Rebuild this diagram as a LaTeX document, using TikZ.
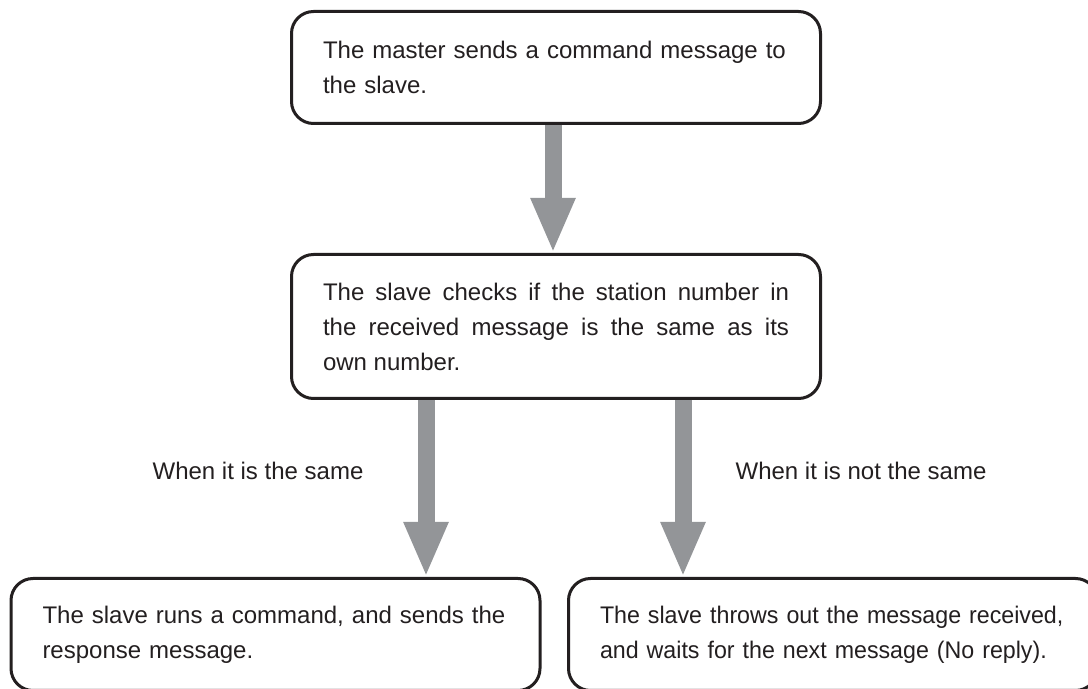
\documentclass[tikz,border=0pt]{standalone}
\usepackage{fontspec}
\setmainfont{Liberation Sans}
\newfontfamily\narrowsans[FakeStretch=0.967]{Liberation Sans}
\usetikzlibrary{arrows.meta, positioning, calc}
\definecolor{inkgray}{RGB}{35,31,32}
\definecolor{arrowgray}{RGB}{147,149,152}
\tikzset{
  box/.style={
    draw=inkgray,
    line width=1.5pt,
    rounded corners=11pt,
    fill=white,
    text=inkgray,
    align=left,
    text width=233pt,
    inner xsep=15.75pt,
    inner ysep=4pt,
    minimum height=56pt
  },
  checkbox/.style={box, align=justify, minimum height=72pt},
  flowarrow/.style={-{Triangle[width=20.5pt,length=27.5pt]}, line width=8.5pt, draw=arrowgray},
  branchlabel/.style={text=inkgray, inner sep=0pt, anchor=base}
}

\begin{document}
\begin{tikzpicture}[
    x=0.5pt, y=0.5pt,
    font=\fontsize{12}{17.5}\selectfont
]
\useasboundingbox (0,0) rectangle (1088,-689);
\clip (0,0) rectangle (1088,-689);

\node[box] (master) at (556,-67.5)
{The master sends a command message to\\the slave.};

\node[checkbox, below=64pt of master] (check)
{The slave checks if the station number in\linebreak the received message is the same as its\linebreak own number.};

\node[box, anchor=north] (same) at (275.5,-577)
{The slave runs a command, and sends the\\response message.};

\node[box, anchor=north, font=\fontsize{12}{17.5}\selectfont\narrowsans] (notsame) at (833,-577)
{The slave throws out the message received,\\and waits for the next message (No reply).};

\node[branchlabel] (samelbl) at (258,-480) {When it is the same};
\node[branchlabel] (notsamelbl) at (861,-480) {When it is not the same};

\draw[flowarrow] ([xshift=-1.5pt]master.south) -- ([xshift=-1.5pt]master.south |- check.north);
\draw[flowarrow] ([xshift=-65pt]check.south) -- ([xshift=-65pt]check.south |- same.north);
\draw[flowarrow] ([xshift=63.5pt]check.south) -- ([xshift=63.5pt]check.south |- notsame.north);

\end{tikzpicture}
\end{document}
